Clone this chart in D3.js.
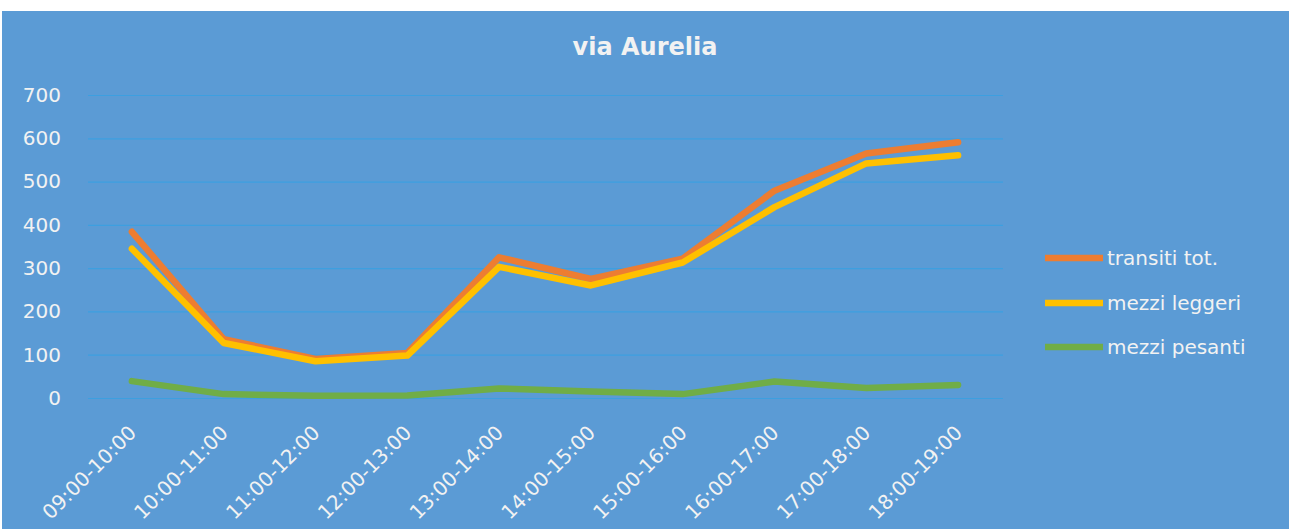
<!DOCTYPE html>
<html>
<head>
<meta charset="utf-8">
<script src="https://cdn.jsdelivr.net/npm/d3@7"></script>
<style>
  html, body { margin: 0; padding: 0; background: #ffffff; }
  svg { display: block; }
  text { font-family: "DejaVu Sans", sans-serif; fill: #F2F2F2; }
</style>
</head>
<body>
<svg id="chart" width="1289" height="529"></svg>
<script>
const categories = ["09:00-10:00","10:00-11:00","11:00-12:00","12:00-13:00","13:00-14:00","14:00-15:00","15:00-16:00","16:00-17:00","17:00-18:00","18:00-19:00"];
const transitiTot   = [384, 136, 90, 104, 325, 275, 322, 479, 565, 591];
const mezziLeggeri  = [345, 127, 85, 98, 303, 260, 313, 441, 542, 561];
const mezziPesanti  = [39, 9, 5, 6, 22, 15, 9, 38, 23, 30];
const yTicks = [0, 100, 200, 300, 400, 500, 600, 700];
const title = "via Aurelia";
const seriesNames = ["transiti tot.", "mezzi leggeri", "mezzi pesanti"];
const seriesColors = ["#ED7D31", "#FFC000", "#70AD47"];

const series = [
  { name: seriesNames[0], values: transitiTot,  color: seriesColors[0] },
  { name: seriesNames[1], values: mezziLeggeri, color: seriesColors[1] },
  { name: seriesNames[2], values: mezziPesanti, color: seriesColors[2] }
];

const svg = d3.select("#chart");

// background
svg.append("rect").attr("x", 2).attr("y", 11).attr("width", 1287).attr("height", 518).attr("fill", "#5B9BD5");

const plotLeft = 86, plotRight = 1004, plotTop = 95, plotBottom = 398;

const x = d3.scalePoint().domain(categories).range([plotLeft, plotRight]).padding(0.5);
const y = d3.scaleLinear().domain([0, 700]).range([plotBottom, plotTop]);

// title
svg.append("text")
  .attr("x", 645).attr("y", 55)
  .attr("text-anchor", "middle")
  .style("font-weight", "bold")
  .style("font-size", "24px")
  .text(title);

// y axis + gridlines
const yAxis = svg.append("g")
  .attr("transform", `translate(${plotLeft + 2},0)`)
  .call(d3.axisLeft(y).tickValues(yTicks).tickSize(-(plotRight - plotLeft - 3)).tickPadding(27).tickFormat(d3.format("d")));
yAxis.select(".domain").remove();
yAxis.selectAll(".tick line").attr("stroke", "#3D9FE0").attr("stroke-width", 1.2);
yAxis.selectAll(".tick text")
  .attr("fill", "#F2F2F2")
  .style("font-size", "20px")
  .style("font-family", "DejaVu Sans, sans-serif");

// x axis labels
const xAxis = svg.append("g")
  .attr("transform", `translate(0,${plotBottom})`)
  .call(d3.axisBottom(x).tickSize(0).tickPadding(0));
xAxis.select(".domain").remove();
xAxis.selectAll(".tick text")
  .attr("fill", "#F2F2F2")
  .style("font-size", "20px")
  .style("font-family", "DejaVu Sans, sans-serif")
  .attr("text-anchor", "end")
  .attr("dy", null)
  .attr("y", 0)
  .attr("transform", "translate(5,36) rotate(-45)");

// lines
const line = d3.line()
  .x((d, i) => x(categories[i]))
  .y(d => y(d));

svg.append("g").selectAll("path")
  .data(series)
  .join("path")
  .attr("d", d => line(d.values))
  .attr("fill", "none")
  .attr("stroke", d => d.color)
  .attr("stroke-width", 6.5)
  .attr("stroke-linejoin", "round")
  .attr("stroke-linecap", "round");

// legend
const legendY = [258, 303, 347];
const legend = svg.append("g").selectAll("g")
  .data(series)
  .join("g")
  .attr("transform", (d, i) => `translate(1045,${legendY[i]})`);
legend.append("line")
  .attr("x1", 0).attr("x2", 58).attr("y1", 0).attr("y2", 0)
  .attr("stroke", d => d.color).attr("stroke-width", 6.5);
legend.append("text")
  .attr("x", 62).attr("y", 7)
  .style("font-size", "20px")
  .text(d => d.name);
</script>
</body>
</html>
